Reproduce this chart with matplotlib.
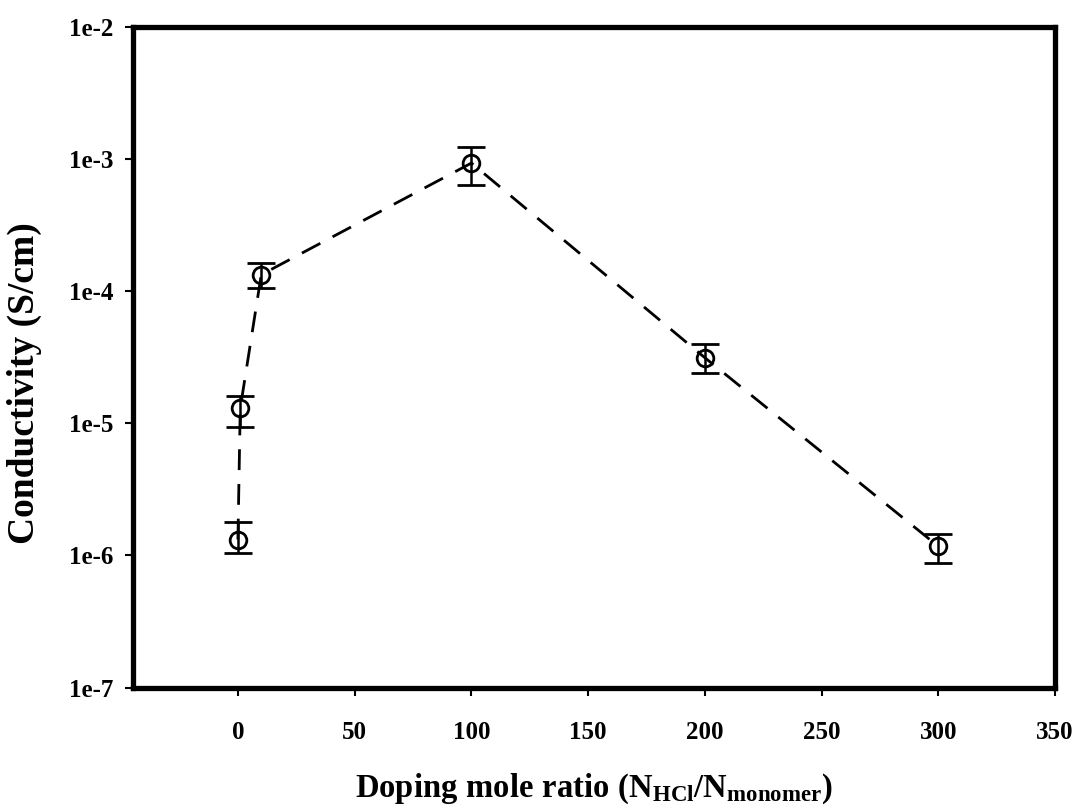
import matplotlib.pyplot as plt
import numpy

plt.rcParams['font.family'] = ['Liberation Serif', 'DejaVu Serif']
plt.rcParams['font.weight'] = 'bold'
plt.rcParams['mathtext.fontset'] = 'custom'
plt.rcParams['mathtext.rm'] = 'Liberation Serif:bold'
plt.rcParams['mathtext.bf'] = 'Liberation Serif:bold'
plt.rcParams['mathtext.it'] = 'Liberation Serif:bold'

# doping ratio vs conductivity with measurement spread
ratio = [0, 1, 10, 100, 200, 300]
conductivity = [1.32e-6, 1.3e-5, 1.33e-4, 9.3e-4, 3.13e-5, 1.17e-6]
err_low = [1.05e-6, 9.3e-6, 1.05e-4, 6.4e-4, 2.42e-5, 8.8e-7]
err_high = [1.78e-6, 1.62e-5, 1.64e-4, 1.22e-3, 4.0e-5, 1.46e-6]

x_ticks = [0, 50, 100, 150, 200, 250, 300, 350]
y_ticks = [1e-7, 1e-6, 1e-5, 1e-4, 1e-3, 1e-2]
y_ticklabels = ['1e-7', '1e-6', '1e-5', '1e-4', '1e-3', '1e-2']

cond = numpy.array(conductivity)
yerr = [cond - numpy.array(err_low), numpy.array(err_high) - cond]

fig = plt.figure(figsize=(10.8, 8.09), dpi=100)
ax = fig.add_axes([0.123, 0.150, 0.854, 0.817])

ax.plot(ratio, conductivity, linestyle=(0, (7.5, 5)), color='black', linewidth=2)
ax.errorbar(ratio, conductivity, yerr=yerr, fmt='o', markersize=12,
            markerfacecolor='none', markeredgecolor='black', markeredgewidth=2,
            ecolor='black', elinewidth=1.8, capsize=10, capthick=1.8)

ax.set_yscale('log')
ax.set_xlim(-45, 350)
ax.set_ylim(1e-7, 1e-2)
ax.set_xticks(x_ticks)
ax.set_xticklabels([str(t) for t in x_ticks], fontsize=18, fontweight='bold')
ax.set_yticks(y_ticks)
ax.set_yticklabels(y_ticklabels, fontsize=18, fontweight='bold')
ax.minorticks_off()
ax.tick_params(direction='out', length=6, width=1.5, pad=18)
ax.tick_params(axis='y', pad=8)

for side in ['left', 'bottom', 'top', 'right']:
    ax.spines[side].set_linewidth(3.8)

ax.set_ylabel('Conductivity (S/cm)', fontsize=27, fontweight='bold')
ax.yaxis.set_label_coords(-0.098, 0.46)
ax.set_xlabel(r'$\mathrm{Doping\ mole\ ratio\ (N_{HCl}/N_{monomer})}$', fontsize=23.5, labelpad=20)

plt.savefig('out.png', dpi=100)
